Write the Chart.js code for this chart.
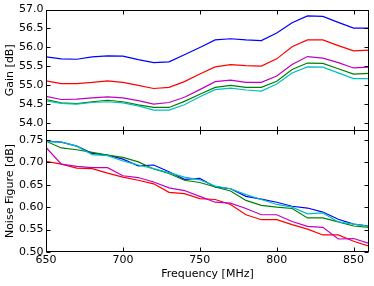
<!DOCTYPE html>
<html>
<head>
<meta charset="utf-8">
<script src="https://cdn.jsdelivr.net/npm/chart.js@4"></script>
<style>
  body { margin: 0; background: #fff; }
  #top { position: absolute; left: 0; top: 0; width: 374px; height: 131px; }
  #bottom { position: absolute; left: 0; top: 130px; width: 374px; height: 156px; }
</style>
</head>
<body>
<div id="top"><canvas id="gainChart"></canvas></div>
<div id="bottom"><canvas id="nfChart"></canvas></div>
<script>
const freq = [650, 660, 670, 680, 690, 700, 710, 720, 730, 740, 750, 760, 770, 780, 790, 800, 810, 820, 830, 840, 850, 860];

const gainBlue  = [55.75, 55.70, 55.69, 55.75, 55.78, 55.77, 55.68, 55.60, 55.62, 55.81, 56.00, 56.20, 56.23, 56.20, 56.18, 56.38, 56.65, 56.83, 56.82, 56.66, 56.51, 56.51];
const gainRed   = [55.12, 55.05, 55.05, 55.08, 55.12, 55.08, 55.00, 54.92, 54.95, 55.10, 55.30, 55.49, 55.55, 55.52, 55.51, 55.70, 56.02, 56.20, 56.20, 56.05, 55.91, 55.93];
const gainMag   = [54.71, 54.63, 54.64, 54.67, 54.70, 54.67, 54.60, 54.51, 54.55, 54.69, 54.89, 55.10, 55.14, 55.08, 55.08, 55.25, 55.55, 55.76, 55.72, 55.60, 55.46, 55.48];
const gainGreen = [54.63, 54.54, 54.52, 54.57, 54.61, 54.57, 54.49, 54.42, 54.42, 54.58, 54.77, 54.95, 55.00, 54.95, 54.95, 55.11, 55.42, 55.59, 55.58, 55.44, 55.30, 55.32];
const gainCyan  = [54.59, 54.53, 54.51, 54.55, 54.57, 54.54, 54.46, 54.35, 54.35, 54.49, 54.70, 54.89, 54.93, 54.88, 54.85, 55.04, 55.33, 55.49, 55.48, 55.33, 55.18, 55.18];

const nfBlue  = [0.747, 0.745, 0.736, 0.720, 0.716, 0.707, 0.692, 0.694, 0.679, 0.662, 0.664, 0.645, 0.641, 0.624, 0.618, 0.611, 0.602, 0.598, 0.589, 0.573, 0.562, 0.558];
const nfCyan  = [0.746, 0.745, 0.736, 0.717, 0.715, 0.703, 0.694, 0.686, 0.677, 0.667, 0.661, 0.647, 0.641, 0.628, 0.617, 0.606, 0.600, 0.585, 0.587, 0.567, 0.562, 0.557];
const nfGreen = [0.747, 0.732, 0.728, 0.722, 0.716, 0.711, 0.701, 0.685, 0.675, 0.660, 0.655, 0.645, 0.636, 0.615, 0.604, 0.600, 0.597, 0.576, 0.576, 0.567, 0.558, 0.555];
const nfMag   = [0.733, 0.696, 0.691, 0.688, 0.688, 0.670, 0.666, 0.656, 0.643, 0.637, 0.624, 0.611, 0.609, 0.597, 0.583, 0.583, 0.568, 0.557, 0.555, 0.529, 0.530, 0.519];
const nfRed   = [0.702, 0.696, 0.687, 0.686, 0.676, 0.667, 0.660, 0.652, 0.633, 0.630, 0.619, 0.617, 0.606, 0.583, 0.572, 0.572, 0.561, 0.551, 0.538, 0.538, 0.524, 0.513];

const xTicks = [650, 700, 750, 800, 850];
const gainTicks = [54.0, 54.5, 55.0, 55.5, 56.0, 56.5, 57.0];
const nfTicks = [0.50, 0.55, 0.60, 0.65, 0.70, 0.75];

const colors = { blue: '#0000ff', green: '#008000', red: '#ff0000', cyan: '#00bfbf', magenta: '#bf00bf' };
const font = { family: 'DejaVu Sans', size: 11 };

function series(values, color) {
  return {
    data: freq.map((f, i) => ({ x: f, y: values[i] })),
    borderColor: color,
    borderWidth: 1.2,
    pointRadius: 0,
    tension: 0,
    fill: false
  };
}

// matplotlib-like box with inward ticks on all four sides
const frame = {
  id: 'frame',
  afterDatasetsDraw(chart, args, opts) {
    const { ctx, chartArea: a, scales } = chart;
    const L = Math.round(a.left) + 0.5, R = Math.round(a.right) - 0.5;
    const T = Math.round(a.top) + 0.5, B = Math.round(a.bottom) - 0.5;
    ctx.save();
    ctx.strokeStyle = '#000';
    ctx.lineWidth = 1;
    ctx.beginPath();
    xTicks.forEach(v => {
      const px = Math.round(scales.x.getPixelForValue(v)) + 0.5;
      ctx.moveTo(px, T); ctx.lineTo(px, T + 4);
      ctx.moveTo(px, B); ctx.lineTo(px, B - 4);
    });
    opts.yTicks.forEach(v => {
      const py = Math.round(scales.y.getPixelForValue(v)) + 0.5;
      ctx.moveTo(L, py); ctx.lineTo(L + 4, py);
      ctx.moveTo(R, py); ctx.lineTo(R - 4, py);
    });
    ctx.stroke();
    ctx.strokeRect(L, T, R - L, B - T);
    ctx.restore();
  }
};

function noPad(s) {
  s.paddingTop = 0; s.paddingBottom = 0; s.paddingLeft = 0; s.paddingRight = 0;
}

function yAxis(min, max, ticks, digits, title) {
  return {
    type: 'linear',
    min: min,
    max: max,
    afterBuildTicks: s => { s.ticks = ticks.map(v => ({ value: v })); },
    afterFit: s => { s.width = 46; noPad(s); },
    grid: { display: false, drawTicks: false },
    border: { display: false },
    ticks: { color: '#000', font: font, padding: 2.5, callback: v => Number(v).toFixed(digits) },
    title: { display: true, text: title, color: '#000', font: font, padding: { top: 3.5, bottom: 0 } }
  };
}

new Chart(document.getElementById('gainChart').getContext('2d'), {
  type: 'line',
  data: {
    datasets: [
      series(gainMag, colors.magenta),
      series(gainCyan, colors.cyan),
      series(gainRed, colors.red),
      series(gainGreen, colors.green),
      series(gainBlue, colors.blue)
    ]
  },
  options: {
    responsive: true,
    maintainAspectRatio: false,
    animation: false,
    layout: { padding: { top: 9.5, right: 5, left: 0, bottom: 0 } },
    scales: {
      x: { type: 'linear', min: 650, max: 860, display: false },
      y: yAxis(53.8, 57.0, gainTicks, 1, 'Gain [dB]')
    },
    plugins: { legend: { display: false }, tooltip: { enabled: false }, frame: { yTicks: gainTicks } }
  },
  plugins: [frame]
});

new Chart(document.getElementById('nfChart').getContext('2d'), {
  type: 'line',
  data: {
    datasets: [
      series(nfMag, colors.magenta),
      series(nfCyan, colors.cyan),
      series(nfRed, colors.red),
      series(nfGreen, colors.green),
      series(nfBlue, colors.blue)
    ]
  },
  options: {
    responsive: true,
    maintainAspectRatio: false,
    animation: false,
    layout: { padding: { top: 0, right: 5, left: 0, bottom: 0 } },
    scales: {
      x: {
        type: 'linear',
        min: 650,
        max: 860,
        afterBuildTicks: s => { s.ticks = xTicks.map(v => ({ value: v })); },
        afterFit: s => { s.height = 34; noPad(s); },
        grid: { display: false, drawTicks: false },
        border: { display: false },
        ticks: { color: '#000', font: font, padding: 2, maxRotation: 0 },
        title: { display: true, text: 'Frequency [MHz]', color: '#000', font: font, padding: { top: 0, bottom: 5.4 } }
      },
      y: yAxis(0.50, 0.772, nfTicks, 2, 'Noise Figure [dB]')
    },
    plugins: { legend: { display: false }, tooltip: { enabled: false }, frame: { yTicks: nfTicks } }
  },
  plugins: [frame]
});
</script>
</body>
</html>
